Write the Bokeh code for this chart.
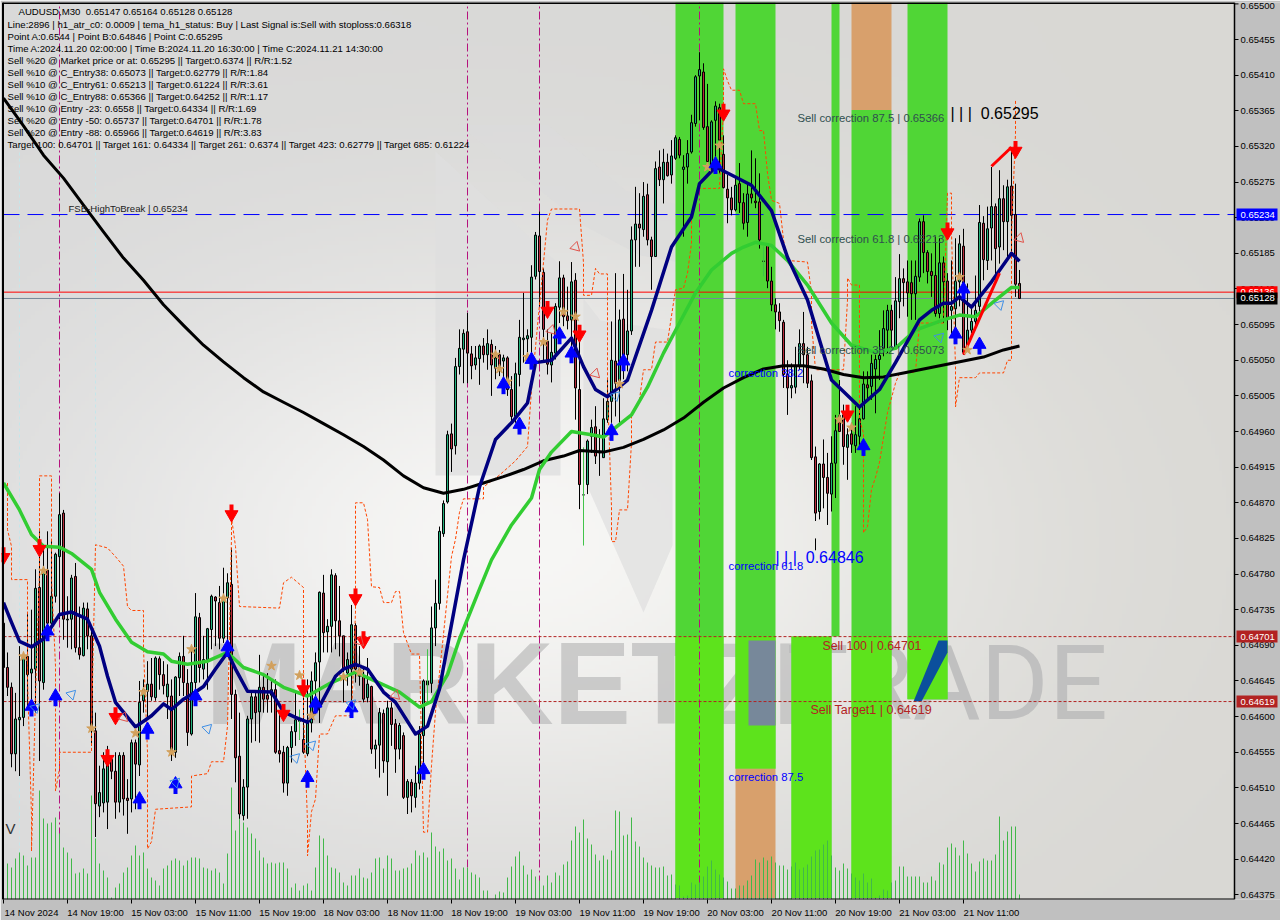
import math
import numpy as np
from bokeh.plotting import figure
from bokeh.embed import file_html
from bokeh.resources import INLINE
from bokeh.models import FixedTicker, NumeralTickFormatter, LinearAxis, Range1d
from bokeh.core.properties import value

# ---- candles, in points (1 point = 0.00001) ----
bar_high = [
 64760,64681,64643,64630,64689,64681,64731,64735,64786,64834,
 64815,64834,64823,64807,64882,64861,64752,64779,64794,64739,
 64744,64744,64714,64605,64538,64555,64563,64550,64555,64555,
 64555,64521,64571,64571,64645,64647,64670,64674,64676,64676,
 64670,64666,64647,64651,64681,64702,64660,64685,64756,64731,
 64702,64712,64754,64752,64765,64788,64781,64813,64634,64605,
 64521,64601,64630,64630,64678,64655,64655,64647,64647,64605,
 64563,64563,64588,64630,64605,64630,64647,64657,64681,64758,
 64779,64723,64786,64781,64765,64702,64681,64741,64718,64689,
 64664,64674,64639,64571,64611,64609,64620,64618,64597,64592,
 64580,64521,64521,64538,64588,64647,64660,64739,64773,64840,
 64873,64961,64970,65053,65089,65089,65110,65068,65068,65070,
 65078,65089,65076,65068,65063,65057,65055,65030,65047,65101,
 65135,65089,65170,65212,65238,65166,65089,65084,65122,65175,
 65158,65143,65174,65160,65093,64880,64950,64975,64992,64963,
 65002,65026,65099,65160,65114,65159,65139,65219,65269,65261,
 65275,65273,65206,65301,65315,65317,65311,65328,65334,65332,
 65309,65328,65360,65410,65439,65425,65399,65353,65377,65374,
 65334,65284,65269,65280,65299,65261,65273,65315,65305,65286,
 65175,65198,65168,65128,65122,65101,65050,65046,65067,65089,
 65111,65067,65032,64941,64920,64950,64933,64954,64981,65025,
 64994,64964,64971,64992,64992,65036,65036,65057,65057,65088,
 65113,65120,65120,65155,65184,65166,65176,65176,65176,65229,
 65233,65189,65185,65206,65204,65181,65160,65176,65204,65208,
 65216,65147,65115,65157,65246,65232,65244,65294,65248,65290,
 65271,65278,65319,65273,65164]
bar_top = [
 64718,64662,64637,64597,64599,64676,64676,64660,64762,64763,
 64786,64785,64752,64805,64855,64857,64723,64775,64777,64687,
 64737,64736,64702,64582,64504,64534,64546,64546,64531,64551,
 64551,64497,64567,64567,64618,64634,64641,64641,64674,64673,
 64653,64641,64626,64650,64676,64676,64642,64643,64726,64725,
 64672,64711,64752,64751,64744,64750,64769,64767,64628,64550,
 64511,64597,64625,64625,64637,64637,64627,64634,64634,64557,
 64555,64561,64581,64596,64597,64571,64592,64645,64668,64757,
 64756,64714,64779,64778,64721,64702,64672,64716,64715,64660,
 64651,64641,64638,64564,64605,64604,64611,64611,64591,64589,
 64576,64518,64517,64516,64578,64645,64645,64712,64743,64834,
 64869,64956,64957,65042,65065,65084,65086,65058,65053,65068,
 65068,65071,65070,65053,65057,65053,65053,65013,65033,65079,
 65078,65081,65155,65208,65207,65161,65074,65060,65118,65154,
 65154,65106,65149,65151,65013,64880,64948,64965,64966,64935,
 64976,64998,65050,65049,65101,65102,65087,65202,65222,65222,
 65257,65259,65202,65292,65294,65300,65300,65308,65331,65329,
 65294,65311,65350,65408,65417,65414,65345,65351,65371,65369,
 65310,65266,65255,65271,65273,65249,65260,65260,65251,65250,
 65175,65196,65150,65120,65111,65098,65032,65018,65042,65071,
 65071,65057,65024,64928,64919,64919,64902,64920,64961,64980,
 64981,64956,64957,64956,64976,65020,65019,65046,65051,65056,
 65090,65113,65113,65125,65153,65153,65149,65148,65156,65225,
 65225,65186,65162,65157,65173,65173,65150,65118,65150,65197,
 65194,65088,65099,65113,65224,65223,65216,65244,65244,65254,
 65254,65269,65270,65234,65147]
bar_bottom = [
 64662,64637,64553,64553,64596,64599,64653,64655,64660,64645,
 64643,64718,64718,64752,64802,64723,64722,64723,64687,64678,
 64677,64702,64584,64490,64487,64491,64492,64531,64492,64492,
 64496,64494,64496,64540,64539,64620,64632,64625,64624,64653,
 64639,64625,64555,64555,64649,64643,64580,64578,64643,64662,
 64660,64672,64710,64746,64699,64699,64750,64628,64548,64477,
 64475,64511,64597,64605,64606,64622,64622,64627,64555,64553,
 64516,64516,64561,64581,64594,64555,64553,64592,64645,64669,
 64706,64707,64714,64721,64702,64660,64655,64660,64660,64651,
 64622,64624,64559,64559,64564,64544,64543,64590,64559,64559,
 64498,64498,64500,64498,64516,64576,64640,64642,64712,64743,
 64831,64871,64938,64942,65042,65064,65059,65043,65044,65052,
 65057,65057,65044,65040,65038,65049,65013,64979,64979,65032,
 65076,65077,65079,65156,65162,65089,65045,65044,65059,65117,
 65105,65100,65101,65015,64893,64880,64893,64954,64929,64933,
 64927,64975,64998,65021,65024,65051,65057,65087,65202,65217,
 65215,65202,65181,65181,65278,65278,65283,65284,65305,65309,
 65291,65294,65313,65349,65409,65344,65301,65297,65353,65328,
 65268,65255,65240,65240,65249,65223,65224,65255,65249,65202,
 65175,65150,65120,65111,65100,65032,65015,65015,65016,65042,
 65057,65021,64927,64857,64859,64902,64882,64881,64920,64960,
 64941,64940,64944,64942,64954,64976,65015,65017,65039,65051,
 65065,65088,65088,65067,65124,65148,65135,65134,65134,65155,
 65186,65162,65157,65109,65109,65149,65103,65113,65115,65149,
 65060,65069,65088,65099,65118,65177,65176,65217,65191,65193,
 65225,65225,65233,65146,65128]
bar_low = [
 64653,64626,64536,64531,64525,64588,64609,64613,64605,64544,
 64634,64710,64710,64744,64723,64697,64687,64685,64681,64672,
 64676,64685,64563,64448,64473,64479,64458,64521,64471,64479,
 64475,64452,64479,64483,64525,64605,64597,64620,64620,64634,
 64628,64597,64544,64548,64626,64626,64563,64576,64630,64643,
 64647,64634,64685,64689,64685,64693,64693,64597,64517,64471,
 64469,64471,64567,64569,64567,64605,64605,64605,64553,64542,
 64504,64500,64542,64563,64571,64553,64550,64580,64626,64592,
 64681,64681,64681,64685,64676,64618,64639,64618,64643,64639,
 64618,64618,64553,64534,64523,64529,64500,64563,64529,64546,
 64496,64477,64479,64485,64508,64529,64620,64630,64689,64735,
 64827,64869,64909,64931,65032,65021,65021,65026,65038,65019,
 65047,65038,65005,65026,65030,65013,65005,64971,64971,65017,
 65047,65049,65059,65152,65118,65047,65032,65022,65051,65097,
 65093,65089,65055,64975,64862,64880,64881,64933,64919,64904,
 64927,64971,64971,64979,64971,65026,65036,65082,65168,65168,
 65206,65195,65139,65181,65270,65248,65282,65273,65303,65305,
 65206,65273,65311,65345,65353,65341,65299,65290,65299,65286,
 65267,65223,65233,65238,65236,65215,65206,65248,65242,65191,
 65175,65141,65112,65089,65086,65015,64981,65002,65008,65038,
 65021,65015,64924,64847,64849,64863,64842,64859,64876,64960,
 64918,64899,64933,64933,64937,64975,65002,65000,64983,65025,
 65055,65059,65065,65063,65103,65118,65105,65101,65101,65149,
 65160,65147,65130,65105,65103,65097,65088,65080,65084,65118,
 65057,65063,65084,65088,65109,65151,65164,65176,65151,65172,
 65189,65179,65187,65130,65128]
bar_dir = ("RRRGGGRGGR" "GRGGGRGGRR" "GRRRGGGRRG" "RRGRGGGRGR" "RGRGGRRGGR"
           "GGGRRGGRRR" "GGGRGRRGRR" "RGGGGRGGGG" "RGGRRRGGRR" "RGRGGRGRRG"
           "RGRGGGGGGG" "GGRGGGRRGG" "RGRGRGRRGG" "GGGGRRRGGG" "RRGRRGGGRG"
           "GGGRGRGGGR" "GRRGRGRGGR" "GGGGGRRGGR" "RRRGRRGRRR" "GRRRRRRGGG"
           "RRRRGRRGGR" "RGRGGGRGGG" "GGRGGRRRGG" "RRRRGRRGGG" "RGGGGRGGRG"
           "RGRRR")
volume = [
 47,36,32,41,47,44,34,42,42,109, 81,76,77,82,66,52,47,41,26,27,
 31,26,104,61,36,29,22,2,12,16, 27,32,44,54,44,47,31,22,19,14,
 31,34,39,41,39,34,39,42,42,41, 32,31,29,31,27,16,46,112,69,82,
 77,72,66,61,49,42,36,37,36,37, 37,31,12,16,9,14,16,9,32,64,
 61,44,32,31,27,17,14,24,24,31, 22,21,27,41,42,31,44,41,29,29,
 31,32,36,49,44,47,42,67,53,48, 51,39,41,31,20,32,32,27,25,22,
 9,9,0,5,8,7,22,33,43,48, 34,25,30,23,19,14,24,17,27,24,
 35,38,59,73,67,80,61,55,45,39, 44,40,49,89,88,64,65,82,58,53,
 42,37,34,32,32,33,24,25,15,14, 3,4,17,15,17,23,33,39,30,25,
 22,18,11,11,14,14,19,24,40,37, 42,39,43,37,34,34,30,33,37,30,
 32,35,43,49,50,55,59,44,32,29, 36,31,26,22,19,26,17,21,2,4,
 10,9,17,19,33,33,23,23,23,23, 17,17,23,19,37,35,52,56,52,44,
 59,46,36,28,38,41,39,39,45,83, 59,68,73,73,5]

# ---- indicator lines ----
black_ma_bar = [0,5,10,15,20,25,30,35,40,45,50,55,60,65,70,75,80,85,90,95,100,105,110,115,120,125,130,135,140,144,150,155,160,165,170,175,180,185,190,195,200,205,210,215,220,225,230,235,240,245,250,254]
black_ma = [65381,65346,65309,65280,65246,65212,65179,65151,65120,65094,65069,65048,65028,65010,64997,64984,64970,64956,64941,64924,64904,64889,64882,64887,64895,64903,64912,64923,64929,64936,64934,64940,64950,64962,64977,64997,65015,65028,65039,65043,65043,65039,65032,65028,65029,65034,65039,65044,65049,65054,65063,65068]
green_ma_bar = [0,4,7,10,14,17,22,24,28,32,36,40,42,46,51,56,60,65,70,76,82,88,92,99,104,107,111,114,119,122,127,132,134,137,142,147,150,157,161,165,169,173,177,182,185,188,192,196,201,207,212,218,223,228,235,239,243,248,252,254]
green_ma = [64895,64861,64830,64815,64814,64806,64786,64757,64723,64694,64682,64679,64670,64666,64670,64681,64662,64653,64637,64626,64643,64656,64647,64631,64612,64619,64653,64698,64761,64798,64842,64876,64912,64934,64960,64956,64953,64981,65016,65059,65097,65135,65164,65185,65193,65199,65195,65176,65145,65097,65069,65060,65065,65088,65101,65107,65105,65126,65142,65142]
navy_ma_bar = [0,2,4,7,10,14,17,21,24,26,28,33,37,40,42,45,48,50,53,56,58,61,67,70,73,76,79,83,85,88,91,95,98,103,106,109,115,119,123,127,131,133,137,142,145,148,151,156,162,167,172,174,178,182,187,192,196,201,207,214,219,223,229,232,235,237,239,242,247,252,254]
navy_ma = [64744,64719,64695,64688,64698,64729,64732,64723,64689,64651,64618,64587,64601,64616,64609,64622,64631,64638,64660,64681,64660,64632,64631,64606,64599,64593,64613,64651,64660,64666,64660,64631,64618,64578,64588,64635,64798,64890,64950,64971,64996,65047,65050,65078,65042,65013,65004,65025,65113,65193,65231,65273,65294,65284,65271,65239,65180,65126,65025,64991,65013,65047,65101,65113,65122,65122,65130,65117,65149,65185,65175]
orange_bar = [1,1,2,2,6,6,7,7,7,8,9,9,9,12,12,12,13,13,14,14,22,22,23,26,28,30,31,32,35,35,36,36,37,38,47,47,51,52,55,56,57,57,58,59,69,70,72,75,75,76,76,77,78,79,81,83,87,88,88,90,91,92,94,95,97,98,99,100,102,104,105,106,107,108,112,113,114,115,120,120,124,128,131,132,136,137,144,145,145,147,148,149,151,151,152,152,153,154,156,157,157,159,160,162,163,166,168,170,171,172,172,174,179,180,180,181,182,184,185,188,189,190,191,192,194,195,196,201,202,202,203,210,211,211,212,214,214,215,215,216,217,218,219,221,223,224,228,229,235,236,237,237,238,238,239,243,244,250,251,252,252,253,253]
orange_line = [64895,64836,64815,64773,64773,64647,64475,64471,64430,64626,64782,64895,64904,64904,64858,64773,64664,64506,64534,64555,64555,64584,64817,64813,64802,64790,64739,64734,64734,64685,64555,64433,64442,64483,64486,64525,64528,64543,64543,64588,64827,64851,64815,64739,64737,64769,64776,64763,64606,64467,64424,64480,64496,64578,64578,64601,64601,64732,64870,64870,64849,64764,64763,64744,64744,64758,64758,64706,64679,64679,64454,64454,64538,64606,64802,64824,64858,64875,64875,64890,64905,64923,64941,65013,65227,65241,65241,65173,65132,65132,65166,65159,65159,65013,64865,64821,64821,64861,64861,64946,64979,65000,65038,65038,65073,65073,65139,65141,65160,65198,65236,65267,65267,65369,65418,65403,65391,65391,65374,65374,65340,65340,65286,65252,65248,65202,65176,65174,65135,65097,65038,65038,65126,65154,65145,65145,64975,64958,64832,64840,64887,64902,64921,64984,65021,65034,65035,65097,65097,65261,65261,65210,65042,64991,65028,65028,65034,65034,65050,65050,65210,65336,65378]
spike_bar = [74,106,145,190]
spike_high = [64609,64685,64940,65194]
spike_low = [64571,64618,64816,65156]
trend_bar_a = [240,249]
trend_a = [65057,65160]
trend_bar_b = [247,252]
trend_b = [65295,65319]

# ---- signals ----
red_arrow_bar = [0,9,26,28,57,70,75,88,90,136,144,180,211,236,253]
red_arrow = [64805,64815,64550,64603,64859,64607,64638,64753,64699,65116,65086,65365,64985,65215,65318]
blue_arrow_bar = [7,11,13,34,36,43,48,56,76,78,87,105,125,129,132,139,142,152,155,178,215,238,240,244]
blue_arrow = [64609,64704,64622,64492,64580,64511,64622,64684,64519,64613,64607,64529,65016,64965,65047,65079,65055,64957,65045,65294,64938,65079,65136,65066]
hollow_blue_bar = [8,17,43,51,73,77,87,153,234,249]
hollow_blue = [64611,64628,64517,64585,64548,64564,64616,65005,65079,65120]
hollow_red_bar = [30,89,98,143,137,148,254]
hollow_red = [64599,64695,64627,65193,65088,65033,65204]
star_bar = [5,10,22,33,35,42,47,55,67,74,77,85,89,123,124,126,131,135,140,143,154,176,179,209,212,239,241]
star = [64676,64784,64585,64579,64631,64555,64685,64749,64664,64652,64601,64650,64656,65057,65039,65023,65054,65073,65111,65105,65020,65294,65321,64975,64965,65155,65063]

# ---- bands (bar from, bar to, price from, price to) ----
band_left = [168,183,197,207,212,226]
band_right = [180,193,207,209,222,236]
band_low = [64371,64534,64371,64701,64371,64622]
band_high = [65502,65502,64701,65502,65366,65502]
bright_left = [168,183,197,212,226]
bright_right = [180,193,207,222,236]
bright_low = [64371,64534,64371,64371,64622]
bright_high = [64701,64701,64701,64701,64701]
orange_left = [183,212]
orange_right = [193,222]
orange_low = [64371,65366]
orange_high = [64534,65502]

# ---- levels and scale ----
level_fsb = 65234
level_bid = 65136
level_last = 65128
level_sell100 = 64701
level_target1 = 64619
signal_bars = [14,116,134,174]
faint_bars = [4,23]
price_ticks = [65455,65410,65365,65320,65275,65230,65185,65140,65095,65050,65005,64960,64915,64870,64825,64780,64735,64690,64645,64600,64555,64510,64465,64420,64375]
top_price = 65500
time_labels = ["14 Nov 2024","14 Nov 19:00","15 Nov 03:00","15 Nov 11:00","15 Nov 19:00","18 Nov 03:00","18 Nov 11:00","18 Nov 19:00","19 Nov 03:00","19 Nov 11:00","19 Nov 19:00","20 Nov 03:00","20 Nov 11:00","20 Nov 19:00","21 Nov 03:00","21 Nov 11:00"]
time_bars = [0,16,32,48,64,80,96,112,128,144,160,176,192,208,224,240]
info_lines = [
 "Line:2896 | h1_atr_c0: 0.0009 | tema_h1_status: Buy | Last Signal is:Sell with stoploss:0.66318",
 "Point A:0.6544 | Point B:0.64846 | Point C:0.65295",
 "Time A:2024.11.20 02:00:00 | Time B:2024.11.20 16:30:00 | Time C:2024.11.21 14:30:00",
 "Sell %20 @ Market price or at: 0.65295 || Target:0.6374 || R/R:1.52",
 "Sell %10 @ C_Entry38: 0.65073 || Target:0.62779 || R/R:1.84",
 "Sell %10 @ C_Entry61: 0.65213 || Target:0.61224 || R/R:3.61",
 "Sell %10 @ C_Entry88: 0.65366 || Target:0.64252 || R/R:1.17",
 "Sell %10 @ Entry -23: 0.6558 || Target:0.64334 || R/R:1.69",
 "Sell %20 @ Entry -50: 0.65737 || Target:0.64701 || R/R:1.78",
 "Sell %20 @ Entry -88: 0.65966 || Target:0.64619 || R/R:3.83",
 "Target 100: 0.64701 || Target 161: 0.64334 || Target 261: 0.6374 || Target 423: 0.62779 || Target 685: 0.61224",
]

PT = 1e-5
W, H = 1280, 920
F_L, F_R, F_T, F_B = 1, 1280, 2, 899    # plotting area; the gray scale strip is inside it
P_L, P_R = 3, 1234                      # chart window
STEP = 1.2628e-5      # price per pixel
x0 = (F_L - 3) / 4
x1 = x0 + (F_R - F_L) / 4
y1 = 0.65500 + (3.4 - F_T) * STEP
y0 = y1 - (F_B - F_T) * STEP

def bx(px):
    return x0 + (px - F_L) / 4
def py(px):
    return y1 - (px - F_T) * STEP
def prices(a):
    return [v * PT for v in a]

p = figure(width=W, height=H, x_range=Range1d(x0, x1), y_range=Range1d(y0, y1),
           y_axis_location=None, output_backend="svg", toolbar_location=None,
           min_border_left=F_L, min_border_right=W - F_R, min_border_top=F_T, min_border_bottom=H - F_B,
           border_fill_color="#c0c0c0", background_fill_color="#c0c0c0",
           outline_line_color=None)
p.grid.visible = False

# background gradient
gh, gw = 230, 320
yy, xx = np.mgrid[0:gh, 0:gw]
xp = xx / gw * (P_R - P_L) + P_L
yp = yy / gh * (F_B - F_T) + F_T
glow = np.exp(-(((xp - 520) / 430) ** 2 + ((yp - 540) / 270) ** 2))
base = 217 + 30 * glow
warm = np.clip(xp / 1234, 0, 1)
img = np.zeros((gh, gw), dtype=np.uint32)
v = img.view(dtype=np.uint8).reshape((gh, gw, 4))
v[..., 0] = base
v[..., 1] = base - 1 * warm
v[..., 2] = base - 5 * warm
v[..., 3] = 255
p.image_rgba(image=[img[::-1]], x=bx(P_L), y=y0, dw=bx(P_R) - bx(P_L), dh=y1 - y0)

# watermark
def poly(pts, color, alpha=1.0):
    p.patch([bx(a) for a, b in pts], [py(b) for a, b in pts], fill_color=color, fill_alpha=alpha, line_color=None)
poly([(435, 151), (560, 265), (560, 475), (435, 475)], "#dedede", 0.8)
poly([(458, 124), (547, 124), (625, 190), (680, 205), (680, 262), (640, 255), (583, 225)], "#dcdcdc", 0.7)
poly([(583, 298), (600, 320), (672, 330), (672, 545), (643, 612), (583, 477)], "#dedede", 0.7)
p.text(x=[bx(205)], y=[py(683)], text=["MARKETZI"], text_font=value("Liberation Sans"), text_font_style="bold",
       text_font_size="116px", text_color="#bdbdbd", text_alpha=0.75, text_baseline="middle")
p.text(x=[bx(786)], y=[py(683)], text=["TRADE"], text_font=value("Roboto"),
       text_font_size="104px", text_color="#bdbdbd", text_alpha=0.9, text_baseline="middle")

# bands
p.quad(left=band_left, right=band_right, bottom=prices(band_low), top=prices(band_high), fill_color="#50d636", line_color=None)
p.quad(left=bright_left, right=bright_right, bottom=prices(bright_low), top=prices(bright_high), fill_color="#5de31c", line_color=None)
p.quad(left=orange_left, right=orange_right, bottom=prices(orange_low), top=prices(orange_high), fill_color="#d8a06c", line_color=None)
poly([(748, 640), (775, 640), (775, 725), (748, 725)], "#77889a")
poly([(913, 701), (938, 640), (947, 640), (947, 652), (921, 701)], "#0b4f9c")

# verticals
for b in signal_bars:
    p.line([b, b], [y0, y1], line_color="#b5127d", line_width=1, line_dash="8 3 2 3")
for b in faint_bars:
    p.line([b, b], [y0, y1], line_color="#c5e6ea", line_width=1, line_dash="3 3")

# volume
vol_bars = list(range(len(volume)))
p.segment(x0=vol_bars, x1=vol_bars, y0=[y0] * len(volume), y1=[y0 + q * STEP for q in volume], line_color="#42b84a", line_width=1)

# levels
xa, xb = bx(P_L), bx(P_R)
p.line([xa, xb], [level_fsb * PT] * 2, line_color="#0000ff", line_width=1, line_dash="16 8")
p.line([xa, xb], [level_last * PT] * 2, line_color="#778899", line_width=1)
p.line([xa, xb], [level_bid * PT] * 2, line_color="#ff0000", line_width=1)
p.line([xa, xb], [level_sell100 * PT] * 2, line_color="#b22222", line_width=1, line_dash="3 2")
p.line([xa, xb], [level_target1 * PT] * 2, line_color="#b22222", line_width=1, line_dash="3 2")

# candles
bars = list(range(len(bar_high)))
p.segment(x0=bars, x1=bars, y0=prices(bar_low), y1=prices(bar_high), line_color="black", line_width=1)
colors = ["#22b27c" if d == "G" else "#b92a3c" for d in bar_dir]
p.vbar(x=bars, width=0.5, bottom=prices(bar_bottom), top=prices(bar_top), fill_color=colors, line_color="black", line_width=1)
p.segment(x0=spike_bar, x1=spike_bar, y0=prices(spike_low), y1=prices(spike_high), line_color="#42c44a", line_width=1)
p.line([203, 203], [64810 * PT, 64825 * PT], line_color="black", line_width=1)

# lines
p.line(orange_bar, prices(orange_line), line_color="#ff4500", line_width=1, line_dash="3 2")
p.line(black_ma_bar, prices(black_ma), line_color="black", line_width=3, line_join="round")
p.line(green_ma_bar, prices(green_ma), line_color="#32cd32", line_width=3.5, line_join="round")
p.line(navy_ma_bar, prices(navy_ma), line_color="#000080", line_width=3.5, line_join="round")
p.line(trend_bar_a, prices(trend_a), line_color="#ff0000", line_width=3)
p.line(trend_bar_b, prices(trend_b), line_color="#ff0000", line_width=3)

# signals
def arrows(xs, ys, color, down):
    ys = prices(ys)
    s = -1 if down else 1
    p.segment(x0=xs, x1=xs, y0=[y - s * 7 * STEP for y in ys], y1=[y + s * 1 * STEP for y in ys], line_color=color, line_width=4)
    p.scatter(x=xs, y=[y + s * 3 * STEP for y in ys], marker="inverted_triangle" if down else "triangle",
              size=13, fill_color=color, line_color=color, line_width=1)

p.scatter(x=star_bar, y=prices(star), marker="star", size=10, fill_color="#d2a05c", line_color="#d2a05c")
arrows(red_arrow_bar, red_arrow, "#ff0000", True)
arrows(blue_arrow_bar, blue_arrow, "#0000ff", False)
p.scatter(x=hollow_blue_bar, y=prices(hollow_blue), marker="triangle", angle=-math.pi / 4, size=10, fill_color=None, line_color="#3f8fe6", line_width=1)
p.scatter(x=hollow_red_bar, y=prices(hollow_red), marker="triangle", angle=-3 * math.pi / 4, size=10, fill_color=None, line_color="#e0524a", line_width=1)

# frame
p.line([bx(2.5), bx(2.5)], [y0, y1], line_color="black", line_width=2)
p.line([bx(2), bx(P_R)], [py(2.5), py(2.5)], line_color="black", line_width=2)
p.line([bx(2), bx(P_R)], [py(899), py(899)], line_color="black", line_width=2)

# texts
NB = "\u00a0"
def label(px, py_, text, size, color="black", font="Liberation Sans", **kw):
    p.text(x=[bx(px)], y=[py(py_)], text=[text], text_font=value(font), text_font_size=size,
           text_color=color, text_baseline="middle", **kw)

label(18, 10.5, "AUDUSD,M30" + NB + NB + "0.65147 0.65164 0.65128 0.65128", "9.6px")
for i, line in enumerate(info_lines):
    label(7, 23.5 + 12 * i, line, "9.6px")
label(68, 208, "FSB-HighToBreak" + NB + "|" + NB + "0.65234", "9.6px", "#222222")
label(797, 117, "Sell correction 87.5 | 0.65366", "11.3px", "#2f4f4f")
label(797, 238, "Sell correction 61.8 | 0.65213", "11.3px", "#2f4f4f")
label(797, 349, "Sell correction 38.2 | 0.65073", "11.3px", "#2f4f4f")
label(950, 113, "| | |" + NB + NB + "0.65295", "16px", "black")
label(775, 557, "| | |" + NB + NB + "0.64846", "16px", "#0000ff")
label(728, 372, "correction 38.2", "11.3px", "#0000ff")
label(728, 565, "correction 61.8", "11.3px", "#0000ff")
label(728, 776, "correction 87.5", "11.3px", "#0000ff")
label(822, 645, "Sell 100 | 0.64701", "12.3px", "#b22222")
label(810, 709, "Sell Target1 | 0.64619", "12.5px", "#b22222")
label(5, 828, "V", "15px", "#333333")

# axes
yax = LinearAxis(fixed_location=bx(P_R), ticker=FixedTicker(ticks=[t * PT for t in price_ticks]),
                 formatter=NumeralTickFormatter(format="0.00000"))
yax.major_label_text_font = "Liberation Sans"
yax.major_label_text_font_size = "9.5px"
yax.major_label_text_color = "black"
yax.major_tick_in = 0
yax.major_tick_out = 4
yax.minor_tick_line_color = None
yax.major_label_standoff = 2
yax.axis_line_color = "black"
yax.axis_line_width = 1.5
yax.major_tick_line_color = "black"
p.add_layout(yax, "right")
p.segment(x0=[bx(P_R)], x1=[bx(P_R + 4)], y0=[top_price * PT], y1=[top_price * PT], line_color="black", line_width=1)
label(P_R + 6, 5.5, "0.65500", "9.5px")

label_bars = [b + 7 for b in time_bars]
p.xaxis.ticker = FixedTicker(ticks=label_bars, minor_ticks=time_bars)
p.xaxis.major_label_overrides = {b: t for b, t in zip(label_bars, time_labels)}
p.xaxis.major_label_text_font = "Liberation Sans"
p.xaxis.major_label_text_font_size = "9.5px"
p.xaxis.major_label_text_color = "black"
p.xaxis.major_tick_in = 0
p.xaxis.major_tick_out = 0
p.xaxis.minor_tick_in = 0
p.xaxis.minor_tick_out = 4
p.xaxis.minor_tick_line_color = "black"
p.xaxis.major_label_standoff = 3
p.xaxis.axis_line_color = None

# axis price tags
tag_levels = [level_bid, level_fsb, level_last, level_sell100, level_target1]
tag_texts = ["0.65136", "0.65234", "0.65128", "0.64701", "0.64619"]
tag_fills = ["#ff0000", "#0000ff", "#000000", "#b22222", "#b22222"]
for lv, txt, bg in zip(tag_levels, tag_texts, tag_fills):
    p.quad(left=[bx(P_R + 2)], right=[bx(P_R + 43)], bottom=[lv * PT - 6 * STEP], top=[lv * PT + 6 * STEP],
           fill_color=bg, line_color=None, level="annotation")
    p.text(x=[bx(P_R + 6)], y=[lv * PT], text=[txt], text_font=value("Liberation Sans"), text_font_size="9.5px",
           text_color="white", text_baseline="middle", level="annotation")

open("out.html", "w").write(file_html(p, INLINE))
